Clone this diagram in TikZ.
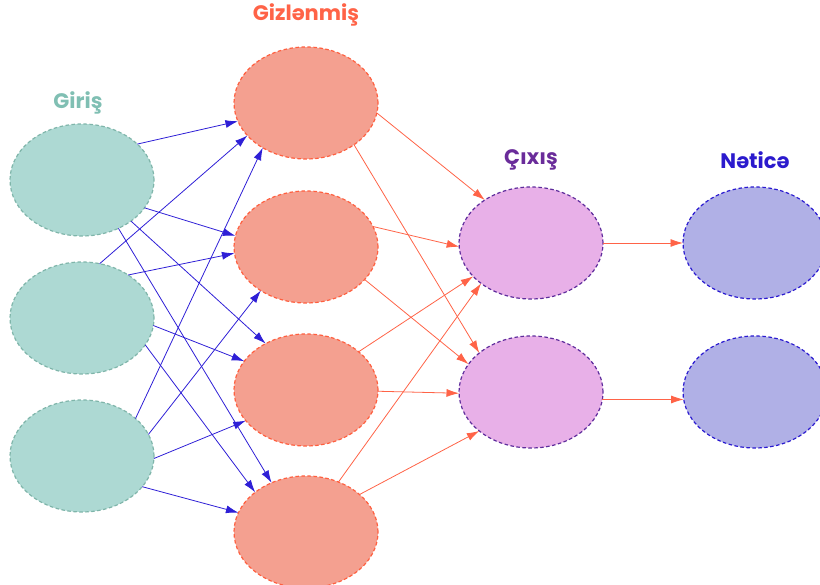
\documentclass[tikz,border=0pt]{standalone}
\usepackage{fontspec}
\setmainfont{Poppins}[BoldFont={Poppins Bold}]
\usetikzlibrary{arrows.meta,shapes.geometric}
\definecolor{inFill}{HTML}{ADD9D3}
\definecolor{inLine}{HTML}{7FB5AA}
\definecolor{inText}{HTML}{80BFB3}
\definecolor{hidFill}{HTML}{F4A090}
\definecolor{hidLine}{HTML}{FF5F3F}
\definecolor{hidText}{HTML}{FF6347}
\definecolor{outFill}{HTML}{E8B0E8}
\definecolor{outLine}{HTML}{5E2C9C}
\definecolor{outText}{HTML}{6A2C9A}
\definecolor{resFill}{HTML}{B0B0E6}
\definecolor{resLine}{HTML}{2A1AD0}
\definecolor{resText}{HTML}{2B1ACD}
\definecolor{blueArrow}{HTML}{2E1FD6}
\definecolor{redArrow}{HTML}{FF6347}
\tikzset{
  neuron/.style={ellipse, minimum width=144pt, minimum height=112pt, inner sep=0pt, outer sep=0pt,
    line width=1.2pt, dash pattern=on 3.5pt off 2.5pt},
  inN/.style={neuron, fill=inFill, draw=inLine},
  hidN/.style={neuron, fill=hidFill, draw=hidLine},
  outN/.style={neuron, fill=outFill, draw=outLine},
  resN/.style={neuron, fill=resFill, draw=resLine},
  layerlabel/.style={font=\bfseries\fontsize{21}{24}\selectfont, inner sep=0pt},
  bluearr/.style={draw=blueArrow, line width=0.8pt, -{Latex[length=12.5pt,width=8pt]}},
  redarr/.style={draw=redArrow, line width=0.8pt, -{Latex[length=12.5pt,width=8pt]}},
}
\begin{document}
\begin{tikzpicture}[x=1pt,y=-1pt]
\useasboundingbox (0,0) rectangle (820,585);
% nodes
\node[inN] (i1) at (82,180) {};
\node[inN] (i2) at (82,318) {};
\node[inN] (i3) at (82,456) {};
\node[hidN] (h1) at (306,103) {};
\node[hidN] (h2) at (306,247) {};
\node[hidN] (h3) at (306,390) {};
\node[hidN] (h4) at (306,532) {};
\node[outN] (o1) at (531,243) {};
\node[outN] (o2) at (531,392) {};
\node[resN] (r1) at (755,243) {};
\node[resN] (r2) at (755,392) {};
% labels
\node[layerlabel, text=inText] (lin) at (78,103) {Giriş};
\node[layerlabel, text=hidText] (lhid) at (306,15) {Gizlənmiş};
\node[layerlabel, text=outText] (lout) at (531,160) {Çıxış};
\node[layerlabel, text=resText] (lres) at (755,160) {Nəticə};
% input -> hidden
\draw[bluearr] (i1.33) -- (h1.195);
\draw[bluearr] (i1.-24) -- (h2.171);
\draw[bluearr] (i1.-40) -- (h3.131);
\draw[bluearr] (i1.-53) -- (h4.125);
\draw[bluearr] (i2.72) -- (h1.209);
\draw[bluearr] (i2.43) -- (h2.185);
\draw[bluearr] (i2.-6) -- (h3.155);
\draw[bluearr] (i2.-23) -- (h4.142);
\draw[bluearr] (i3.35) -- (h1.226);
\draw[bluearr] (i3.18) -- (h2.224);
\draw[bluearr] (i3.-2) -- (h3.207);
\draw[bluearr] (i3.-27) -- (h4.164);
% hidden -> output
\draw[redarr] (h1.-8) -- (o1.137);
\draw[redarr] (h1.-41) -- (o2.143);
\draw[redarr] (h2.17) -- (o1.183);
\draw[redarr] (h2.-29) -- (o2.156);
\draw[redarr] (h3.36) -- (o1.210);
\draw[redarr] (h3.-1) -- (o2.181);
\draw[redarr] (h4.57) -- (o1.219);
\draw[redarr] (h4.35) -- (o2.217);
% output -> result
\draw[redarr] (o1.east) -- (r1.west);
\draw[redarr] (o2.-6) -- (r2.186);
\end{tikzpicture}
\end{document}
